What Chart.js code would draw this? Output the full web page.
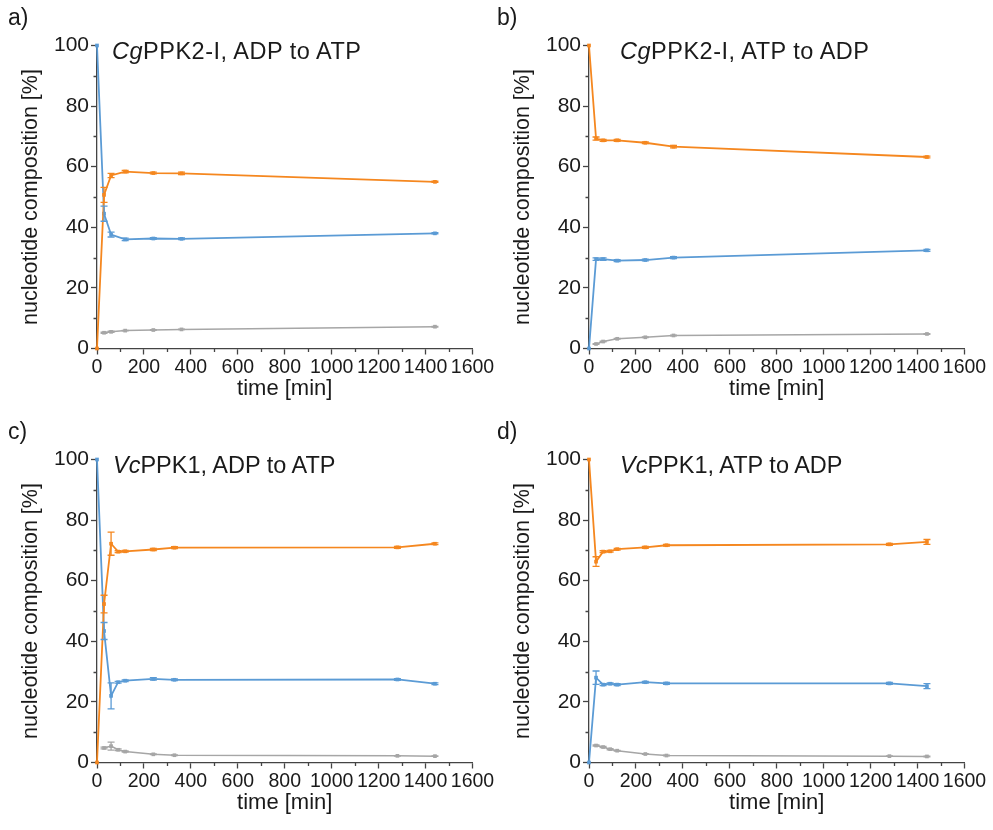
<!DOCTYPE html>
<html>
<head>
<meta charset="utf-8">
<script src="https://cdn.jsdelivr.net/npm/chart.js@4.4.0/dist/chart.umd.min.js"></script>
<style>
  body { margin: 0; background: #fff; }
  #wrap { position: relative; width: 993px; height: 830px; font-family: "Liberation Sans", Arial, sans-serif; color: #1a1a1a; }
  .panel { position: absolute; width: 500px; height: 414px; }
  .panel canvas { position: absolute; left: 0; top: 0; }
  .tag { position: absolute; font-size: 23px; line-height: 22px; white-space: nowrap; }
  .title { position: absolute; font-size: 23.5px; line-height: 22px; white-space: nowrap; }
  .cg { letter-spacing: 0.5px; }
</style>
</head>
<body>
<div id="wrap">
  <div class="panel" style="left:0;top:0"><canvas id="pa" width="500" height="414"></canvas></div>
  <div class="panel" style="left:492px;top:0"><canvas id="pb" width="500" height="414"></canvas></div>
  <div class="panel" style="left:0;top:414px"><canvas id="pc" width="500" height="414"></canvas></div>
  <div class="panel" style="left:492px;top:414px"><canvas id="pd" width="500" height="414"></canvas></div>

  <div class="tag" style="left:8px;top:6px">a)</div>
  <div class="tag" style="left:497px;top:6px">b)</div>
  <div class="tag" style="left:8px;top:420px">c)</div>
  <div class="tag" style="left:497px;top:420px">d)</div>

  <div class="title cg" style="left:112px;top:40px"><i>Cg</i>PPK2-I, ADP to ATP</div>
  <div class="title cg" style="left:620px;top:40px"><i>Cg</i>PPK2-I, ATP to ADP</div>
  <div class="title" style="left:113px;top:454px"><i>Vc</i>PPK1, ADP to ATP</div>
  <div class="title" style="left:620px;top:454px"><i>Vc</i>PPK1, ATP to ADP</div>
</div>

<script>
// sampling times [min]
const timesCg = [0, 30, 60, 120, 240, 360, 1440];
const timesVc = [0, 30, 60, 90, 120, 240, 330, 1280, 1440];

// a) CgPPK2-I, ADP to ATP
const aATP = [0, 50.7, 57.1, 58.4, 57.9, 57.8, 55.0];
const aATPerr = [0, 2.5, 0.7, 0.4, 0.3, 0.4, 0.2];
const aADP = [100, 44.5, 37.6, 36.0, 36.3, 36.2, 38.0];
const aADPerr = [0, 2.5, 0.8, 0.4, 0.3, 0.3, 0.2];
const aAMP = [null, 5.2, 5.5, 5.9, 6.1, 6.3, 7.2];
const aAMPerr = [0, 0.2, 0.2, 0.1, 0.1, 0.1, 0.1];

// b) CgPPK2-I, ATP to ADP
const bATP = [100, 69.3, 68.7, 68.7, 67.9, 66.6, 63.2];
const bATPerr = [0, 0.5, 0.3, 0.3, 0.3, 0.4, 0.3];
const bADP = [0, 29.5, 29.5, 29.0, 29.2, 30.0, 32.4];
const bADPerr = [0, 0.4, 0.4, 0.3, 0.3, 0.3, 0.3];
const bAMP = [null, 1.5, 2.3, 3.2, 3.7, 4.3, 4.8];
const bAMPerr = [0, 0.1, 0.1, 0.1, 0.1, 0.1, 0.1];

// c) VcPPK1, ADP to ATP
const cATP = [0, 52.3, 72.2, 69.6, 69.7, 70.3, 70.9, 71.0, 72.2];
const cATPerr = [0, 2.9, 3.8, 0.3, 0.3, 0.4, 0.3, 0.3, 0.3];
const cADP = [100, 43.4, 22.0, 26.5, 27.0, 27.6, 27.3, 27.4, 26.0];
const cADPerr = [0, 2.8, 4.3, 0.3, 0.3, 0.4, 0.3, 0.3, 0.3];
const cAMP = [null, 4.8, 5.4, 4.2, 3.6, 2.7, 2.4, 2.2, 2.1];
const cAMPerr = [0, 0.3, 1.3, 0.3, 0.2, 0.1, 0.1, 0.1, 0.1];

// d) VcPPK1, ATP to ADP
const dATP = [100, 66.3, 69.6, 69.7, 70.4, 71.0, 71.7, 72.0, 72.8];
const dATPerr = [0, 1.6, 0.3, 0.3, 0.3, 0.3, 0.3, 0.3, 0.8];
const dADP = [0, 28.0, 25.7, 26.0, 25.7, 26.5, 26.1, 26.1, 25.2];
const dADPerr = [0, 2.2, 0.3, 0.3, 0.3, 0.3, 0.3, 0.3, 0.8];
const dAMP = [null, 5.6, 5.1, 4.4, 3.9, 2.8, 2.3, 2.1, 2.0];
const dAMPerr = [0, 0.2, 0.2, 0.2, 0.1, 0.1, 0.1, 0.1, 0.1];

const xTicks = [0, 200, 400, 600, 800, 1000, 1200, 1400, 1600];
const yTicks = [0, 20, 40, 60, 80, 100];

const ORANGE = '#F5871F';
const BLUE = '#5B9BD5';
const GREY = '#A6A6A6';
const INK = '#1a1a1a';
const AXIS = '#444';
const FONT = '"Liberation Sans", Arial, sans-serif';

function toPoints(times, vals) {
    return times.map((t, i) => ({ x: t, y: vals[i] })).filter(p => p.y !== null);
}
function errFor(times, vals, errs) {
    return times.map((t, i) => errs[i]).filter((e, i) => vals[i] !== null);
}

// error bars with small caps
const errorBars = {
    id: 'errorBars',
    afterDatasetsDraw(chart) {
        const ctx = chart.ctx;
        const xs = chart.scales.x, ys = chart.scales.y;
        chart.data.datasets.forEach(ds => {
            if (!ds.errors) return;
            ctx.save();
            ctx.strokeStyle = ds.borderColor;
            ctx.lineWidth = 1.3;
            ds.data.forEach((p, i) => {
                const e = ds.errors[i];
                if (!e) return;
                const px = xs.getPixelForValue(p.x);
                const y1 = ys.getPixelForValue(p.y + e);
                const y2 = ys.getPixelForValue(p.y - e);
                ctx.beginPath();
                ctx.moveTo(px, y1); ctx.lineTo(px, y2);
                ctx.moveTo(px - 3.5, y1); ctx.lineTo(px + 3.5, y1);
                ctx.moveTo(px - 3.5, y2); ctx.lineTo(px + 3.5, y2);
                ctx.stroke();
            });
            ctx.restore();
        });
    }
};

// minor ticks between the labelled ones
const minorTicks = {
    id: 'minorTicks',
    afterDraw(chart) {
        const ctx = chart.ctx;
        const xs = chart.scales.x, ys = chart.scales.y;
        const area = chart.chartArea;
        ctx.save();
        ctx.strokeStyle = AXIS;
        ctx.lineWidth = 1.3;
        ctx.beginPath();
        for (let v = 10; v < 100; v += 20) {
            const py = Math.round(ys.getPixelForValue(v)) + 0.5;
            ctx.moveTo(area.left, py); ctx.lineTo(area.left - 3.5, py);
        }
        for (let v = 100; v < 1600; v += 200) {
            const px = Math.round(xs.getPixelForValue(v)) + 0.5;
            ctx.moveTo(px, area.bottom); ctx.lineTo(px, area.bottom + 3.5);
        }
        ctx.stroke();
        ctx.restore();
    }
};

function series(times, vals, errs, color, width) {
    return {
        data: toPoints(times, vals),
        errors: errFor(times, vals, errs),
        borderColor: color,
        backgroundColor: color,
        borderWidth: width,
        pointStyle: 'rect',
        pointRadius: 2.6,
        pointBorderWidth: 0,
        pointHoverRadius: 2.6,
        tension: 0,
        clip: false
    };
}

function makePanel(id, times, atp, atpErr, adp, adpErr, amp, ampErr) {
    new Chart(document.getElementById(id), {
        type: 'line',
        data: {
            datasets: [
                series(times, amp, ampErr, GREY, 1.5),
                series(times, atp, atpErr, ORANGE, 1.8),
                series(times, adp, adpErr, BLUE, 1.8)
            ]
        },
        options: {
            responsive: false,
            animation: false,
            events: [],
            layout: { padding: { left: 0, right: 27.5, top: 45.5, bottom: 0 } },
            plugins: { legend: { display: false }, tooltip: { enabled: false } },
            scales: {
                x: {
                    type: 'linear', min: 0, max: 1600,
                    afterFit: s => { s.height = 65.5; s.paddingLeft = 0; s.paddingRight = 0; },
                    afterBuildTicks: s => { s.ticks = xTicks.map(v => ({ value: v })); },
                    ticks: { autoSkip: false, maxRotation: 0, color: INK, padding: 1, font: { family: FONT, size: 19.5 }, callback: v => String(v) },
                    grid: { drawOnChartArea: false, tickLength: 6, tickColor: AXIS, tickWidth: 1.3 },
                    border: { color: AXIS, width: 1.3 },
                    title: { display: true, text: 'time [min]', color: INK, font: { family: FONT, size: 22 }, padding: { top: 0, bottom: 12 } }
                },
                y: {
                    min: 0, max: 100,
                    afterFit: s => { s.width = 97; },
                    afterBuildTicks: s => { s.ticks = yTicks.map(v => ({ value: v })); },
                    ticks: { color: INK, padding: 2, font: { family: FONT, size: 21 }, callback: v => String(v) },
                    grid: { drawOnChartArea: false, tickLength: 6, tickColor: AXIS, tickWidth: 1.3 },
                    border: { color: AXIS, width: 1.3 },
                    title: { display: true, text: 'nucleotide composition [%]', color: INK, font: { family: FONT, size: 21.5 }, padding: { top: 18, bottom: 0 } }
                }
            }
        },
        plugins: [errorBars, minorTicks]
    });
}

makePanel('pa', timesCg, aATP, aATPerr, aADP, aADPerr, aAMP, aAMPerr);
makePanel('pb', timesCg, bATP, bATPerr, bADP, bADPerr, bAMP, bAMPerr);
makePanel('pc', timesVc, cATP, cATPerr, cADP, cADPerr, cAMP, cAMPerr);
makePanel('pd', timesVc, dATP, dATPerr, dADP, dADPerr, dAMP, dAMPerr);
</script>
</body>
</html>
